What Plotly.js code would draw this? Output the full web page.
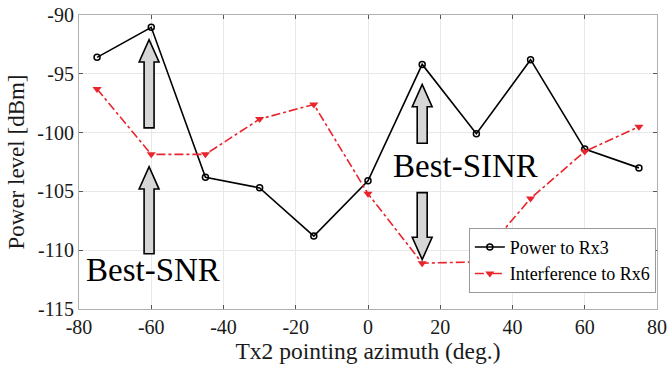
<!DOCTYPE html>
<html>
<head>
<meta charset="utf-8">
<script src="https://cdn.plot.ly/plotly-3.0.1.min.js"></script>
<style>html,body{margin:0;padding:0;background:#fff;}#chart{width:670px;height:367px;}</style>
</head>
<body>
<div id="chart"></div>
<script>
// Data
const azimuth = [-75, -60, -45, -30, -15, 0, 15, 30, 45, 60, 75];
const powerRx3 = [-93.6, -91.05, -103.8, -104.7, -108.8, -104.1, -94.2, -100.1, -93.8, -101.4, -103.0];
const interferenceRx6 = [-96.3, -101.85, -101.85, -98.85, -97.6, -105.2, -111.1, -111.0, -105.6, -101.6, -99.5];

// Tick labels (plain hyphen minus, as in the reference)
const xTickVals = [-80, -60, -40, -20, 0, 20, 40, 60, 80];
const xTickText = ["-80", "-60", "-40", "-20", "0", "20", "40", "60", "80"];
const yTickVals = [-115, -110, -105, -100, -95, -90];
const yTickText = ["-115", "-110", "-105", "-100", "-95", "-90"];

// Block arrows: x centre, tail y, tip y (data units)
const arrowX = [-60.6, -60.6, 15, 15];
const arrowTail = [-99.6, -110.3, -100.9, -105.1];
const arrowTip = [-92.1, -102.9, -95.9, -110.8];

const labelText = ["Best-SNR", "Best-SINR"];
const labelX = [-59.5, 27.1];
const labelY = [-111.7, -102.8];

const serif = "Liberation Serif, Times New Roman, serif";

function blockArrow(xc, tail, tip) {
  const dir = tip > tail ? 1 : -1;
  const headLen = 1.9 * dir;   // dB
  const shaftHalf = 1.38;      // deg
  const headHalf = 2.75;       // deg
  const hb = tip - headLen;
  const pts = [
    [xc - shaftHalf, tail], [xc - shaftHalf, hb], [xc - headHalf, hb],
    [xc, tip], [xc + headHalf, hb], [xc + shaftHalf, hb], [xc + shaftHalf, tail]
  ];
  return 'M ' + pts.map(p => p[0] + ',' + p[1]).join(' L ') + ' Z';
}

const shapes = arrowX.map((x, i) => ({
  type: 'path', xref: 'x', yref: 'y',
  path: blockArrow(x, arrowTail[i], arrowTip[i]),
  fillcolor: '#d6d6d6', line: {color: '#000', width: 1.6}, layer: 'above'
}));

const annotations = labelText.map((t, i) => ({
  text: t, x: labelX[i], y: labelY[i], xref: 'x', yref: 'y',
  showarrow: false, xanchor: 'center', yanchor: 'middle',
  font: {family: serif, size: 33, color: '#000'}
}));

const traces = [
  {
    x: azimuth, y: powerRx3, name: 'Power to Rx3', type: 'scatter', mode: 'lines+markers',
    line: {color: '#000', width: 1.6},
    marker: {symbol: 'circle-open', size: 6, color: '#000', line: {width: 1.5}}
  },
  {
    x: azimuth, y: interferenceRx6, name: 'Interference to Rx6', type: 'scatter', mode: 'lines+markers',
    line: {color: '#e8242c', width: 1.6, dash: 'dashdot'},
    marker: {symbol: 'triangle-down', size: 8, color: '#e8242c'}
  }
];

const axisCommon = {
  showline: true, mirror: 'ticks', linecolor: '#b0b0b0', linewidth: 1,
  ticks: 'inside', ticklen: 4, tickcolor: '#555',
  showgrid: true, gridcolor: '#e8e8e8', gridwidth: 1, zeroline: false,
  tickfont: {family: serif, size: 20, color: '#1a1a1a'}
};

const layout = {
  width: 670, height: 367,
  margin: {l: 79, r: 13, t: 15, b: 58},
  paper_bgcolor: '#fff', plot_bgcolor: '#fff',
  showlegend: true,
  legend: {
    x: 0.998, y: 0.055, xanchor: 'right', yanchor: 'bottom',
    bgcolor: '#fff', bordercolor: '#999', borderwidth: 1,
    font: {family: serif, size: 18, color: '#000'},
    tracegroupgap: 0, itemwidth: 30
  },
  xaxis: Object.assign({}, axisCommon, {
    range: [-80, 80], tickvals: xTickVals, ticktext: xTickText,
    title: {text: 'Tx2 pointing azimuth (deg.)', font: {family: serif, size: 23.5, color: '#1a1a1a'}, standoff: 2}
  }),
  yaxis: Object.assign({}, axisCommon, {
    range: [-115, -90], tickvals: yTickVals, ticktext: yTickText,
    title: {text: 'Power level [dBm]', font: {family: serif, size: 23, color: '#1a1a1a'}, standoff: 6}
  }),
  shapes: shapes,
  annotations: annotations
};

Plotly.newPlot('chart', traces, layout, {staticPlot: true, displayModeBar: false});
</script>
</body>
</html>
